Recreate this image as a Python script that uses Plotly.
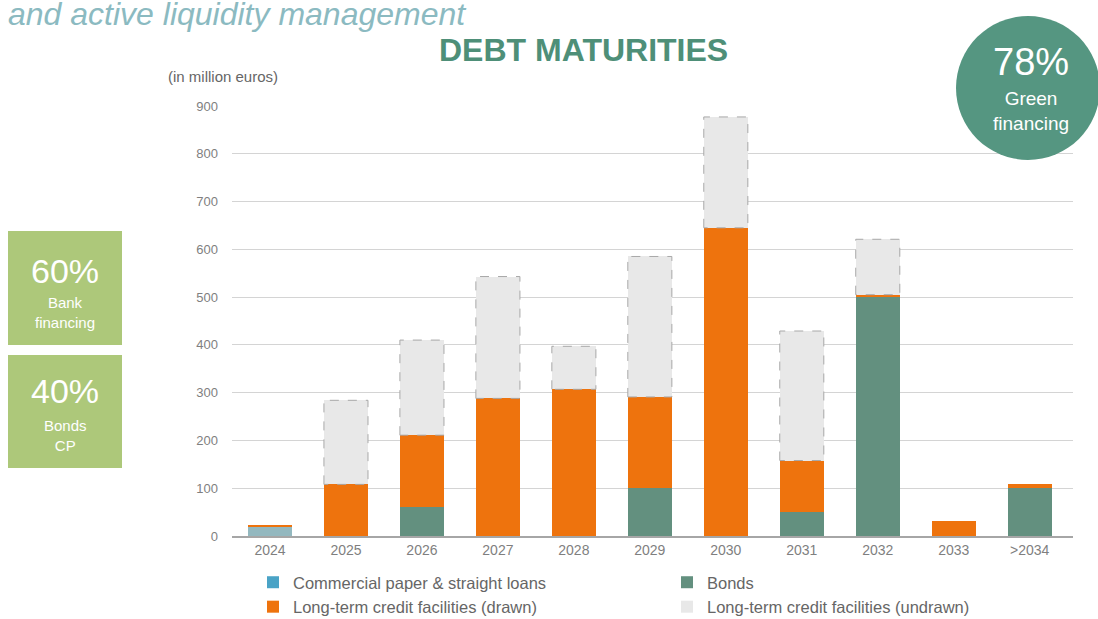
import plotly.graph_objects as go

# Debt maturities, in million euros
years = ["2024", "2025", "2026", "2027", "2028", "2029", "2030", "2031", "2032", "2033", ">2034"]
cp_loans = [18, 0, 0, 0, 0, 0, 0, 0, 0, 0, 0]
bonds = [0, 0, 61, 0, 0, 101, 0, 51, 500, 0, 100]
lt_drawn = [6, 108, 150, 288, 307, 190, 645, 107, 5, 32, 8]
lt_undrawn = [0, 176, 199, 255, 90, 294, 232, 271, 116, 0, 0]

y_ticks = [0, 100, 200, 300, 400, 500, 600, 700, 800, 900]

COLORS = {
    "cp": "#93b8bf",
    "cp_legend": "#4aa3c6",
    "bonds": "#63907f",
    "drawn": "#ee730d",
    "undrawn": "#e8e8e8",
    "title": "#4e8f78",
    "circle": "#559681",
    "box": "#adc87a",
    "grey": "#7f7f7f",
    "legend": "#666666",
}
FONT = "Arial, Liberation Sans, sans-serif"
BAR_W = 0.58

W, H = 1098, 619
# plot area, in page pixels
L, R, T, B = 232, 1073, 105, 536


def px(x):
    return (x - L) / (R - L)


def py(y):
    return (B - y) / (B - T)


xs = list(range(len(years)))

fig = go.Figure()
fig.add_trace(go.Bar(x=xs, y=cp_loans, width=BAR_W, name="Commercial paper & straight loans",
                     showlegend=False, marker=dict(color=COLORS["cp"], line=dict(width=0))))
# legend-only entry (the legend swatch is a brighter blue than the bar)
fig.add_trace(go.Bar(x=[None], y=[None], name="Commercial paper & straight loans",
                     legend="legend", legendgroup="cp",
                     marker=dict(color=COLORS["cp_legend"], line=dict(width=0))))
fig.add_trace(go.Bar(x=xs, y=bonds, width=BAR_W, name="Bonds", legend="legend2",
                     legendgroup="bonds", marker=dict(color=COLORS["bonds"], line=dict(width=0))))
fig.add_trace(go.Bar(x=xs, y=lt_drawn, width=BAR_W, name="Long-term credit facilities (drawn)",
                     legend="legend", legendgroup="drawn",
                     marker=dict(color=COLORS["drawn"], line=dict(width=0))))
fig.add_trace(go.Bar(x=xs, y=lt_undrawn, width=BAR_W, name="Long-term credit facilities (undrawn)",
                     legend="legend2", legendgroup="undrawn",
                     marker=dict(color=COLORS["undrawn"], line=dict(width=0))))

# dashed outline around the undrawn segments
ox, oy = [], []
for i in xs:
    if lt_undrawn[i] <= 0:
        continue
    base = cp_loans[i] + bonds[i] + lt_drawn[i]
    top = base + lt_undrawn[i]
    x0, x1 = i - BAR_W / 2, i + BAR_W / 2
    ox += [x0, x0, x1, x1, x0, None]
    oy += [base, top, top, base, base, None]
fig.add_trace(go.Scatter(x=ox, y=oy, mode="lines", showlegend=False, hoverinfo="skip",
                         line=dict(color="#a8a8a8", width=1, dash="dash")))

legend_style = dict(orientation="v", xanchor="left", yanchor="top", tracegroupgap=3,
                    traceorder="normal", itemwidth=30, bgcolor="rgba(0,0,0,0)",
                    font=dict(size=16.5, color=COLORS["legend"], family=FONT))
fig.update_layout(
    barmode="stack",
    width=W, height=H,
    margin=dict(l=L, r=W - R, t=T, b=H - B, autoexpand=False),
    paper_bgcolor="white", plot_bgcolor="white",
    font=dict(family=FONT, color=COLORS["grey"]),
    showlegend=True,
    legend=dict(x=px(253), y=py(565), **legend_style),
    legend2=dict(x=px(667), y=py(565), **legend_style),
    xaxis=dict(tickvals=xs, ticktext=years, range=[-0.5, 10.57], showgrid=False,
               showline=True, linecolor="#a6a6a6", linewidth=2,
               tickfont=dict(size=14, color=COLORS["grey"]), ticks=""),
    yaxis=dict(range=[0, 902], tickvals=y_ticks, showgrid=True, gridcolor="#d4d4d4",
               gridwidth=1, zeroline=False, tickfont=dict(size=13, color=COLORS["grey"]),
               ticklabelstandoff=13, ticks=""),
)

# headline and chart title
fig.add_annotation(text="<i>and active liquidity management</i>", xref="paper", yref="paper",
                   x=px(6), y=py(14), xanchor="left", yanchor="middle", showarrow=False,
                   font=dict(size=32, color="#8bbac1", family=FONT))
fig.add_annotation(text="<b>DEBT MATURITIES</b>", xref="paper", yref="paper",
                   x=px(583), y=py(50), xanchor="center", yanchor="middle", showarrow=False,
                   font=dict(size=32, color=COLORS["title"], family=FONT))
fig.add_annotation(text="(in million euros)", xref="paper", yref="paper",
                   x=px(166), y=py(76), xanchor="left", yanchor="middle", showarrow=False,
                   font=dict(size=15, color="#666666", family=FONT))

# green circle
fig.add_shape(type="circle", xref="paper", yref="paper", layer="above",
              x0=px(956), x1=px(1100), y0=py(160), y1=py(16),
              fillcolor=COLORS["circle"], line=dict(width=0))
fig.add_annotation(text="78%", xref="paper", yref="paper",
                   x=px(1031), y=py(62), xanchor="center", yanchor="middle",
                   showarrow=False, font=dict(size=38, color="white", family=FONT))
fig.add_annotation(text="Green<br>financing", xref="paper", yref="paper",
                   x=px(1031), y=py(111), xanchor="center", yanchor="middle",
                   showarrow=False, font=dict(size=19, color="white", family=FONT))

# left boxes
for (y_top, y_bot, big, small, big_y, small_y) in [
    (231, 345, "60%", "Bank<br>financing", 271, 312),
    (355, 468, "40%", "Bonds<br>CP", 391, 435),
]:
    fig.add_shape(type="rect", xref="paper", yref="paper",
                  x0=px(8), x1=px(122), y0=py(y_bot), y1=py(y_top),
                  fillcolor=COLORS["box"], line=dict(width=0))
    fig.add_annotation(text=big, xref="paper", yref="paper",
                       x=px(65), y=py(big_y), xanchor="center", yanchor="middle",
                       showarrow=False, font=dict(size=34, color="white", family=FONT))
    fig.add_annotation(text=small, xref="paper", yref="paper",
                       x=px(65), y=py(small_y), xanchor="center", yanchor="middle",
                       showarrow=False, font=dict(size=15, color="white", family=FONT))

# drop the default 8px body margin so the figure sits flush with the window
fig.write_html("out.html", config={"displayModeBar": False},
               post_script="document.body.style.margin='0';")
